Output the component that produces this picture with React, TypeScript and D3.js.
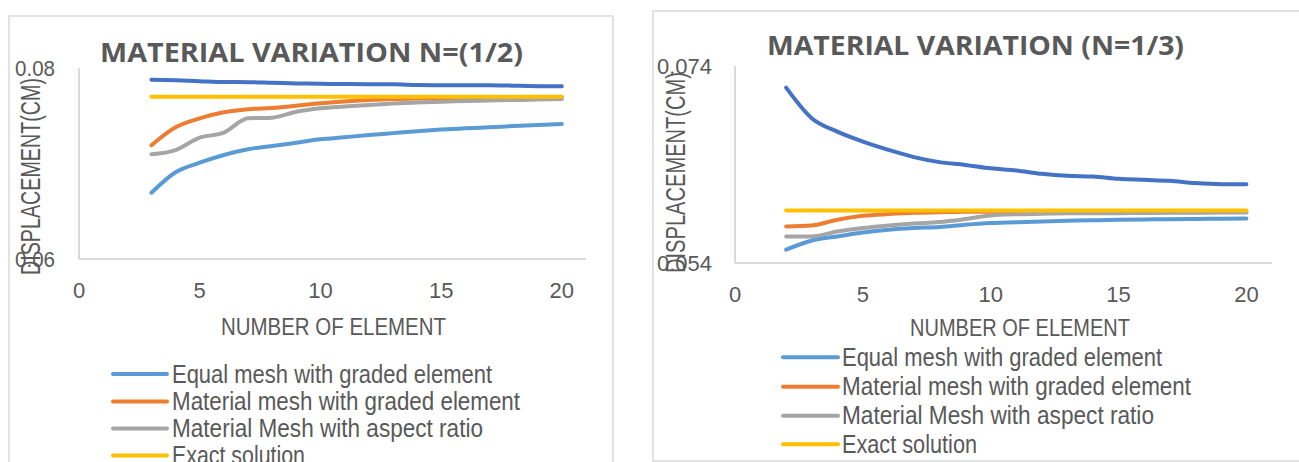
import React from "react";
import * as d3 from "d3";

// ---------- DATA ----------
// Left chart: Material variation N=(1/2)
const elementsHalf = [3, 4, 5, 6, 7, 8, 9, 10, 11, 12, 13, 14, 15, 16, 17, 18, 19, 20];
const equalGradedHalf = [0.06694, 0.06908, 0.07008, 0.07089, 0.07149, 0.07183, 0.07218, 0.07253, 0.07275, 0.07298, 0.07318, 0.07338, 0.07355, 0.07368, 0.0738, 0.07392, 0.07404, 0.07414];
const materialGradedHalf = [0.07191, 0.07379, 0.07473, 0.07536, 0.07568, 0.07581, 0.07605, 0.0763, 0.07649, 0.07665, 0.07675, 0.0768, 0.07686, 0.07686, 0.07686, 0.07665, 0.0768, 0.0769];
const aspectRatioHalf = [0.07096, 0.07141, 0.0727, 0.07323, 0.07473, 0.0748, 0.07542, 0.07578, 0.07597, 0.07613, 0.07628, 0.07639, 0.07647, 0.07654, 0.0766, 0.07665, 0.0767, 0.07675];
const exactHalf = [0.0770, 0.0770, 0.0770, 0.0770, 0.0770, 0.0770, 0.0770, 0.0770, 0.0770, 0.0770, 0.0770, 0.0770, 0.0770, 0.0770, 0.0770, 0.0770, 0.0770, 0.0770];
const unlistedHalf = [0.07878, 0.07872, 0.07862, 0.07853, 0.07852, 0.07845, 0.07838, 0.07835, 0.07832, 0.0783, 0.0783, 0.07822, 0.0782, 0.0782, 0.0782, 0.07815, 0.0781, 0.07808];

// Right chart: Material variation (N=1/3)
const elementsThird = [2, 3, 4, 5, 6, 7, 8, 9, 10, 11, 12, 13, 14, 15, 16, 17, 18, 19, 20];
const equalGradedThird = [0.05535, 0.05629, 0.0567, 0.0571, 0.05738, 0.05755, 0.05765, 0.05788, 0.05805, 0.05813, 0.05822, 0.05829, 0.05834, 0.05839, 0.05842, 0.05844, 0.05847, 0.0585, 0.05852];
const materialGradedThird = [0.05771, 0.05781, 0.05839, 0.05879, 0.05897, 0.0591, 0.05915, 0.0592, 0.0592, 0.0592, 0.0592, 0.0592, 0.0592, 0.0592, 0.0592, 0.0592, 0.0592, 0.0592, 0.0592];
const aspectRatioThird = [0.0567, 0.0567, 0.0572, 0.05755, 0.05781, 0.05801, 0.05816, 0.05846, 0.05882, 0.05895, 0.059, 0.05905, 0.05905, 0.05906, 0.05908, 0.05909, 0.0591, 0.05912, 0.05913];
const exactThird = [0.05933, 0.05933, 0.05933, 0.05933, 0.05933, 0.05933, 0.05933, 0.05933, 0.05933, 0.05933, 0.05933, 0.05933, 0.05933, 0.05933, 0.05933, 0.05933, 0.05933, 0.05933, 0.05933];
const unlistedThird = [0.0718, 0.0687, 0.06734, 0.06633, 0.06549, 0.06475, 0.06424, 0.06396, 0.06361, 0.06339, 0.06305, 0.06285, 0.06278, 0.06255, 0.06244, 0.06234, 0.06211, 0.062, 0.062];

const xTicks = [0, 5, 10, 15, 20];
const yTicksHalf = [0.06, 0.08];
const yTicksThird = [0.054, 0.074];
const legendLabels = [
  "Equal mesh with graded element",
  "Material mesh with graded element",
  "Material Mesh with aspect ratio",
  "Exact solution",
];
const titleHalf = "MATERIAL VARIATION N=(1/2)";
const titleThird = "MATERIAL VARIATION (N=1/3)";
const xTitle = "NUMBER OF ELEMENT";
const yTitle = "DISPLACEMENT(CM)";

// ---------- STYLE ----------
const COLORS = ["#5B9BD5", "#ED7D31", "#A5A5A5", "#FFC000", "#4472C4"];
const TEXT = "#595959";
const AXIS = "#D9D9D9";
const FONT = "'Liberation Sans Narrow', 'Liberation Sans', Arial, sans-serif";
const TITLE_FONT = "'Open Sans', 'DejaVu Sans', sans-serif";

type Cfg = {
  frame: { x: number; y: number; w: number; h: number };
  plot: { x0: number; x1: number; yTop: number; yBot: number };
  yDomain: [number, number];
  yTicks: number[];
  yFmt: (v: number) => string;
  yLabelRight: number;
  yLabelWidths: number[];
  xLabelBase: number;
  title: { text: string; x0: number; x1: number; base: number };
  xTitle: { x0: number; x1: number; base: number };
  yTitle: { base: number; y0: number; y1: number };
  legend: { lx0: number; lx1: number; tx: number; rows: number[]; ends: number[] };
  xs: number[];
  series: number[][]; // order: equal, material, aspect, exact, unlisted
};

function Chart({ cfg }: { cfg: Cfg }) {
  const { plot } = cfg;
  const x = d3.scaleLinear().domain([0, 21]).range([plot.x0, plot.x1]);
  const y = d3.scaleLinear().domain(cfg.yDomain).range([plot.yBot, plot.yTop]);
  const line = d3
    .line<[number, number]>()
    .x((d) => x(d[0]))
    .y((d) => y(d[1]))
    .curve(d3.curveMonotoneX);

  const drawOrder = [0, 1, 2, 4, 3];

  return (
    <g>
      <rect
        x={cfg.frame.x}
        y={cfg.frame.y}
        width={cfg.frame.w}
        height={cfg.frame.h}
        fill="#fff"
        stroke={AXIS}
        strokeWidth={1.5}
      />
      {/* title */}
      <text
        x={cfg.title.x0}
        y={cfg.title.base}
        textLength={cfg.title.x1 - cfg.title.x0}
        lengthAdjust="spacingAndGlyphs"
        fontFamily={TITLE_FONT}
        fontWeight="bold"
        fontSize={27}
        fill={TEXT}
      >
        {cfg.title.text}
      </text>
      {/* axes */}
      <line x1={plot.x0} x2={plot.x0} y1={plot.yTop} y2={plot.yBot} stroke={AXIS} strokeWidth={2} />
      <line x1={plot.x0} x2={plot.x1} y1={plot.yBot} y2={plot.yBot} stroke={AXIS} strokeWidth={2} />
      {/* y tick labels */}
      {cfg.yTicks.map((t, i) => (
        <text
          key={"yt" + i}
          x={cfg.yLabelRight - cfg.yLabelWidths[i]}
          y={y(t) + 8}
          textLength={cfg.yLabelWidths[i]}
          lengthAdjust="spacingAndGlyphs"
          fontFamily={FONT}
          fontSize={22}
          fill={TEXT}
        >
          {cfg.yFmt(t)}
        </text>
      ))}
      {/* x tick labels */}
      {xTicks.map((t) => (
        <text
          key={"xt" + t}
          x={x(t)}
          y={cfg.xLabelBase}
          textAnchor="middle"
          fontFamily={FONT}
          fontSize={22}
          fill={TEXT}
        >
          {t}
        </text>
      ))}
      {/* x title */}
      <text
        x={cfg.xTitle.x0}
        y={cfg.xTitle.base}
        textLength={cfg.xTitle.x1 - cfg.xTitle.x0}
        lengthAdjust="spacingAndGlyphs"
        fontFamily={FONT}
        fontSize={24}
        fill={TEXT}
      >
        {xTitle}
      </text>
      {/* y title */}
      <text
        transform={`translate(${cfg.yTitle.base},${(cfg.yTitle.y0 + cfg.yTitle.y1) / 2}) rotate(-90)`}
        textAnchor="middle"
        textLength={cfg.yTitle.y1 - cfg.yTitle.y0}
        lengthAdjust="spacingAndGlyphs"
        fontFamily={FONT}
        fontSize={27}
        fill={TEXT}
      >
        {yTitle}
      </text>
      {/* series */}
      {drawOrder.map((si) => (
        <path
          key={"s" + si}
          d={line(cfg.xs.map((xv, i) => [xv, cfg.series[si][i]] as [number, number])) || ""}
          fill="none"
          stroke={COLORS[si]}
          strokeWidth={4}
          strokeLinecap="round"
          strokeLinejoin="round"
        />
      ))}
      {/* legend */}
      {legendLabels.map((lab, i) => (
        <g key={"lg" + i}>
          <line
            x1={cfg.legend.lx0}
            x2={cfg.legend.lx1}
            y1={cfg.legend.rows[i]}
            y2={cfg.legend.rows[i]}
            stroke={COLORS[i]}
            strokeWidth={4}
            strokeLinecap="round"
          />
          <text
            x={cfg.legend.tx}
            y={cfg.legend.rows[i] + 8.5}
            textLength={cfg.legend.ends[i] - cfg.legend.tx}
            lengthAdjust="spacingAndGlyphs"
            fontFamily={FONT}
            fontSize={25}
            fill={TEXT}
          >
            {lab}
          </text>
        </g>
      ))}
    </g>
  );
}

const leftCfg: Cfg = {
  frame: { x: 9, y: 16, w: 604, h: 470 },
  plot: { x0: 79, x1: 586, yTop: 68, yBot: 259 },
  yDomain: [0.06, 0.08],
  yTicks: yTicksHalf,
  yFmt: (v) => d3.format(".2f")(v),
  yLabelRight: 55,
  yLabelWidths: [40, 40],
  xLabelBase: 298,
  title: { text: titleHalf, x0: 100, x1: 523, base: 62 },
  xTitle: { x0: 221, x1: 446, base: 335 },
  yTitle: { base: 40, y0: 78, y1: 275 },
  legend: { lx0: 113, lx1: 167, tx: 172, rows: [374, 401.5, 428.5, 455.5], ends: [492, 520, 483, 305] },
  xs: elementsHalf,
  series: [equalGradedHalf, materialGradedHalf, aspectRatioHalf, exactHalf, unlistedHalf],
};

const rightCfg: Cfg = {
  frame: { x: 653, y: 11, w: 660, h: 450 },
  plot: { x0: 735, x1: 1272, yTop: 66, yBot: 263 },
  yDomain: [0.054, 0.074],
  yTicks: yTicksThird,
  yFmt: (v) => d3.format(".3f")(v),
  yLabelRight: 712,
  yLabelWidths: [55, 55],
  xLabelBase: 302,
  title: { text: titleThird, x0: 767, x1: 1184, base: 55 },
  xTitle: { x0: 910, x1: 1130, base: 336 },
  yTitle: { base: 685, y0: 72, y1: 273 },
  legend: { lx0: 783, lx1: 838, tx: 842, rows: [357.3, 386.7, 415.7, 444.3], ends: [1162, 1191, 1154, 977] },
  xs: elementsThird,
  series: [equalGradedThird, materialGradedThird, aspectRatioThird, exactThird, unlistedThird],
};

export default function App() {
  return (
    <svg
      width={1299}
      height={462}
      style={{ position: "absolute", left: 0, top: 0, background: "#fff" }}
    >
      <rect x={0} y={0} width={1299} height={462} fill="#fff" />
      <Chart cfg={leftCfg} />
      <Chart cfg={rightCfg} />
    </svg>
  );
}
